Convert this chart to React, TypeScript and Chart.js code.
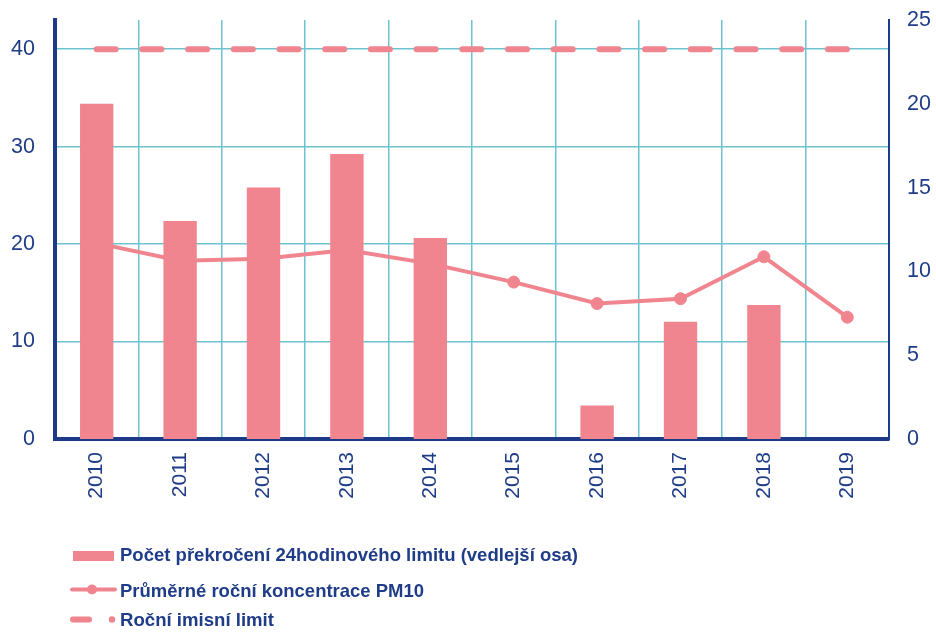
import React, { useEffect, useRef } from "react";
import { Chart, registerables } from "chart.js";

Chart.register(...registerables);

const years = ["2010", "2011", "2012", "2013", "2014", "2015", "2016", "2017", "2018", "2019"];
const exceedances = [20, 13, 15, 17, 12, 0, 2, 7, 8, 0];
const pm10Annual = [20.1, 18.3, 18.5, 19.4, 18.0, 16.1, 13.9, 14.4, 18.7, 12.5];
const annualLimit = [40, 40, 40, 40, 40, 40, 40, 40, 40, 40];
const leftTicks = [0, 10, 20, 30, 40];
const rightTicks = [0, 5, 10, 15, 20, 25];

const legendLabels = [
  "Počet překročení 24hodinového limitu (vedlejší osa)",
  "Průměrné roční koncentrace PM10",
  "Roční imisní limit",
];

const PINK = "#F0858F";
const NAVY = "#1F3C88";
const AXIS = "#1B3A87";
const TEAL = "#6CC4CE";
const FONT = "'Liberation Sans', Arial, sans-serif";

const legendPlugin = {
  id: "customLegend",
  afterDraw(chart: any) {
    const ctx = chart.ctx;
    ctx.save();
    // row 1: bar
    ctx.fillStyle = PINK;
    ctx.fillRect(73, 551, 41, 10);
    // row 2: line with marker
    ctx.strokeStyle = PINK;
    ctx.lineWidth = 4;
    ctx.lineCap = "round";
    ctx.beginPath();
    ctx.moveTo(72, 589.5);
    ctx.lineTo(115, 589.5);
    ctx.stroke();
    ctx.fillStyle = PINK;
    ctx.beginPath();
    ctx.arc(92, 589.5, 5, 0, Math.PI * 2);
    ctx.fill();
    // row 3: dashed
    ctx.lineWidth = 6;
    ctx.beginPath();
    ctx.moveTo(73, 619.5);
    ctx.lineTo(89, 619.5);
    ctx.stroke();
    ctx.beginPath();
    ctx.arc(112, 619.5, 3.2, 0, Math.PI * 2);
    ctx.fill();

    ctx.fillStyle = NAVY;
    ctx.font = `bold 18.6px ${FONT}`;
    ctx.textBaseline = "alphabetic";
    ctx.textAlign = "left";
    ctx.fillText(legendLabels[0], 120, 561, 458);
    ctx.fillText(legendLabels[1], 120, 597, 304);
    ctx.fillText(legendLabels[2], 120, 626, 154);
    ctx.restore();
  },
};

const noPad = (s: any) => {
  s.paddingTop = 0;
  s.paddingBottom = 0;
  s.paddingLeft = 0;
  s.paddingRight = 0;
};

export default function App() {
  const ref = useRef<HTMLCanvasElement>(null);

  useEffect(() => {
    document.body.style.margin = "0";
    const canvas = ref.current;
    if (!canvas) return;
    const chart = new Chart(canvas, {
      type: "bar",
      data: {
        labels: years,
        datasets: [
          {
            type: "bar",
            label: legendLabels[0],
            data: exceedances,
            yAxisID: "y1",
            backgroundColor: PINK,
            borderWidth: 0,
            barPercentage: 0.4,
            categoryPercentage: 1,
            order: 0,
          },
          {
            type: "line",
            label: legendLabels[1],
            data: pm10Annual,
            yAxisID: "y",
            borderColor: PINK,
            backgroundColor: PINK,
            borderWidth: 4,
            pointRadius: 6,
            pointBorderWidth: 1,
            pointBorderColor: PINK,
            pointBackgroundColor: PINK,
            tension: 0,
            order: 1,
          },
          {
            type: "line",
            label: legendLabels[2],
            data: annualLimit,
            yAxisID: "y",
            borderColor: PINK,
            borderWidth: 6,
            borderDash: [19, 26.7],
            borderCapStyle: "round",
            pointRadius: 0,
            tension: 0,
            order: 2,
          },
        ],
      } as any,
      options: {
        animation: false,
        responsive: false,
        maintainAspectRatio: false,
        layout: { padding: { top: 20, left: 0, right: 0, bottom: 0 } },
        plugins: {
          legend: { display: false },
          tooltip: { enabled: false },
        },
        scales: {
          x: {
            offset: true,
            grid: {
              offset: true,
              color: TEAL,
              lineWidth: 1.5,
              drawTicks: false,
            },
            border: { color: AXIS, width: 4 },
            ticks: {
              minRotation: 90,
              maxRotation: 90,
              color: NAVY,
              font: { family: FONT, size: 21 },
              padding: 13,
            },
            afterFit: (s: any) => {
              s.height = 193;
              noPad(s);
            },
          },
          y: {
            position: "left",
            min: 0,
            max: 43,
            afterBuildTicks: (s: any) => {
              s.ticks = leftTicks.map((v) => ({ value: v }));
            },
            ticks: {
              color: NAVY,
              font: { family: FONT, size: 21.5 },
              padding: 20,
            },
            grid: { color: TEAL, lineWidth: 1.5, drawTicks: false },
            border: { color: AXIS, width: 4 },
            afterFit: (s: any) => {
              s.width = 55;
              noPad(s);
            },
          },
          y1: {
            position: "right",
            min: 0,
            max: 25,
            afterBuildTicks: (s: any) => {
              s.ticks = rightTicks.map((v) => ({ value: v }));
            },
            ticks: {
              color: NAVY,
              font: { family: FONT, size: 21.5 },
              padding: 18,
            },
            grid: { display: false, drawOnChartArea: false, drawTicks: false },
            border: { color: AXIS, width: 2 },
            afterFit: (s: any) => {
              s.width = 47;
              noPad(s);
            },
          },
        },
      } as any,
      plugins: [legendPlugin],
    });
    return () => chart.destroy();
  }, []);

  return (
    <div style={{ width: 936, height: 632, background: "#fff" }}>
      <canvas ref={ref} width={936} height={632} style={{ display: "block" }} />
    </div>
  );
}
